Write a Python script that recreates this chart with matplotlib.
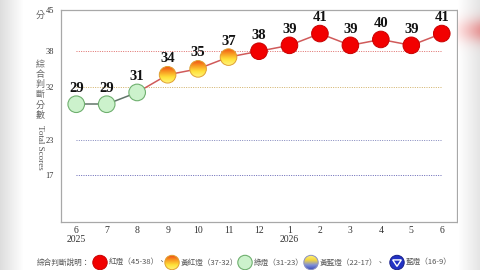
import numpy as np
import matplotlib.pyplot as plt
from matplotlib.patches import Circle, Polygon
from matplotlib.colors import LinearSegmentedColormap

# 資料
months = ['6', '7', '8', '9', '10', '11', '12', '1', '2', '3', '4', '5', '6']
year_labels = {0: '2025', 7: '2026'}
scores = [29, 29, 31, 34, 35, 37, 38, 39, 41, 39, 40, 39, 41]
y_ticks = [45, 38, 32, 23, 17]
thresholds = [38, 32, 23, 17]
threshold_colors = ['#d9534f', '#c9a24a', '#6a70b0', '#4a4aa8']
legend_title = '綜合判斷說明：'
legend_labels = ['紅燈（45-38）、', '黃紅燈（37-32）、', '綠燈（31-23）、', '黃藍燈（22-17）、', '藍燈（16-9）']
legend_kinds = ['red', 'yr', 'green', 'yb', 'blue']

CJK = ['Noto Sans CJK TC', 'DejaVu Sans']
SERIF = ['Liberation Serif', 'DejaVu Serif']


def signal(v):
    if v >= 38:
        return 'red'
    if v >= 32:
        return 'yr'
    if v >= 23:
        return 'green'
    if v >= 17:
        return 'yb'
    return 'blue'


def grad_circle(axo, cx, cy, r, colors, edge, z=5):
    cmap = LinearSegmentedColormap.from_list('g', colors)
    grad = np.linspace(0, 1, 64).reshape(-1, 1)
    im = axo.imshow(grad, cmap=cmap, extent=(cx - r, cx + r, cy - r, cy + r),
                    origin='upper', aspect='auto', interpolation='bilinear', zorder=z)
    circ = Circle((cx, cy), r, fc='none', ec=edge, lw=0.7, zorder=z + 0.1)
    axo.add_patch(circ)
    im.set_clip_path(circ)


def draw_icon(axo, kind, cx, cy, r, z=5):
    if kind == 'red':
        axo.add_patch(Circle((cx, cy), r, fc='#f20000', ec='#c80000', lw=0.7, zorder=z))
    elif kind == 'green':
        axo.add_patch(Circle((cx, cy), r, fc='#ccf2cc', ec='#6fb06f', lw=0.8, zorder=z))
    elif kind == 'yr':
        grad_circle(axo, cx, cy, r, ['#f04a14', '#f89a22', '#ffe23a', '#fff27a'], '#e0a030', z)
    elif kind == 'yb':
        grad_circle(axo, cx, cy, r, ['#fff27a', '#f4d640', '#8090d8', '#3848b8'], '#8a90c0', z)
    else:
        axo.add_patch(Circle((cx, cy), r, fc='#2232c4', ec='#18208a', lw=0.7, zorder=z))
        s = r * 0.6
        axo.add_patch(Polygon([(cx - s, cy + s * 0.6), (cx + s, cy + s * 0.6), (cx, cy - s * 0.9)],
                              closed=True, fc='none', ec='white', lw=1.0, zorder=z + 0.1))


fig = plt.figure(figsize=(4.8, 2.7), dpi=100)

# 背景邊緣陰影
left_band = np.linspace(0.87, 1.0, 24).reshape(1, -1).repeat(270, axis=0)
fig.figimage(np.dstack([left_band] * 3), xo=0, yo=0)
right_band = np.linspace(1.0, 0.9, 22).reshape(1, -1).repeat(270, axis=0)
rb = np.dstack([right_band] * 3)
yy = np.arange(270)[:, None]
pink = np.exp(-((yy - 30) / 12.0) ** 2) * np.linspace(0.1, 0.3, 22)[None, :]
rb[:, :, 1] -= pink
rb[:, :, 2] -= pink
fig.figimage(np.clip(rb, 0, 1), xo=458, yo=0, origin='upper')

ax = fig.add_axes([61 / 480, 48 / 270, 396 / 480, 212 / 270])
x = np.arange(len(scores))
ax.set_xlim(-0.5, len(scores) - 0.5)
ax.set_ylim(9, 45)
for sp in ax.spines.values():
    sp.set_color('#a8a8a8')
    sp.set_linewidth(0.9)

ax.set_yticks(y_ticks)
ax.set_yticklabels([str(t) for t in y_ticks], fontfamily=SERIF, fontsize=6, color='#333333')
ax.set_xticks(x)
ax.set_xticklabels(months, fontfamily=SERIF, fontsize=7, color='#333333')
ax.tick_params(axis='y', length=0, pad=5)
ax.tick_params(axis='x', length=0, pad=3)

for i, yr in year_labels.items():
    ax.annotate(yr, xy=(i, 9), xytext=(0, -12.5), textcoords='offset points',
                ha='center', va='center', fontfamily=SERIF, fontsize=7, color='#333333',
                annotation_clip=False)

ax.hlines(thresholds, 0, len(scores) - 1, colors=threshold_colors,
          linestyles=(0, (1, 1.4)), lw=0.7, alpha=0.85)

# 連線
for i in range(len(scores) - 1):
    c = '#62756a' if signal(scores[i + 1]) == 'green' else '#d05a5a'
    ax.plot(x[i:i + 2], scores[i:i + 2], color=c, lw=1.1, zorder=3)

for i, v in enumerate(scores):
    ax.annotate(str(v), xy=(i, v), xytext=(0, 11.5), textcoords='offset points',
                ha='center', va='center', fontfamily=SERIF, fontsize=10.5,
                fontweight='bold', color='#111111', zorder=6)

# 燈號 (像素座標覆蓋層)
ov = fig.add_axes([0, 0, 1, 1], zorder=5)
ov.patch.set_alpha(0)
ov.axis('off')
for i, v in enumerate(scores):
    px, py = ax.transData.transform((i, v))
    draw_icon(ov, signal(v), px, py, 8.3)

# 圖例
ly = 7.5
ov.text(37, ly, legend_title, fontfamily=CJK, fontsize=5.5, color='#555555', va='center', ha='left')
icon_x = [100, 172, 245, 311, 397]
for kind, lbl, cx in zip(legend_kinds, legend_labels, icon_x):
    draw_icon(ov, kind, cx, ly, 7.2)
    ov.text(cx + 8.5, ly, lbl, fontfamily=CJK, fontsize=5.5, color='#555555', va='center', ha='left')

# Y 軸說明
ov.text(40, 255, '分', fontfamily=CJK, fontsize=6.5, color='#666666', ha='center', va='center')
ov.text(40, 180, '\n'.join('綜合判斷分數'), fontfamily=CJK, fontsize=6.5, color='#666666',
        ha='center', va='center', linespacing=1.15)
ov.text(40, 123, 'Total Scores', fontfamily=SERIF, fontsize=6.5, color='#555555',
        ha='center', va='center', rotation=-90)

ov.set_xlim(0, 480)
ov.set_ylim(0, 270)

fig.savefig('out.png', dpi=100, facecolor='white')
